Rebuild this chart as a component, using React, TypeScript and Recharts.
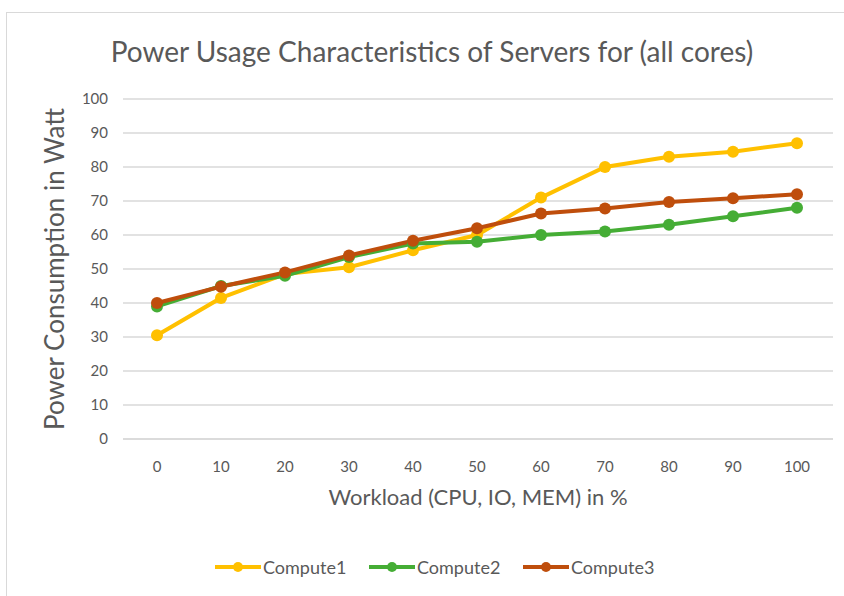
import React from 'react';
import { LineChart, Line, XAxis, YAxis, CartesianGrid, Legend, Label } from 'recharts';

const workload = ['0', '10', '20', '30', '40', '50', '60', '70', '80', '90', '100'];
const compute1 = [30.5, 41.5, 48.5, 50.5, 55.5, 60, 71, 80, 83, 84.5, 87];
const compute2 = [39, 45, 48, 53.5, 57.5, 58, 60, 61, 63, 65.5, 68];
const compute3 = [40, 44.8, 49, 54, 58.3, 62, 66.3, 67.8, 69.7, 70.8, 72];
const yTicks = [0, 10, 20, 30, 40, 50, 60, 70, 80, 90, 100];

const series = [
  { key: 'Compute1', values: compute1, color: '#FFC000' },
  { key: 'Compute2', values: compute2, color: '#45AD35' },
  { key: 'Compute3', values: compute3, color: '#BF4E0C' },
];

const data = workload.map((w, i) => {
  const row: any = { name: w };
  series.forEach((s) => { row[s.key] = s.values[i]; });
  return row;
});

const FONT = 'Lato, "Open Sans", sans-serif';
const GRAY = '#595959';

const renderLegend = () => (
  <div style={{ display: 'flex', justifyContent: 'flex-start', paddingLeft: 162, fontFamily: FONT, fontSize: 18, color: GRAY }}>
    {series.map((s) => (
      <div key={s.key} style={{ display: 'flex', alignItems: 'center', width: 154 }}>
        <svg width={46} height={14} style={{ marginRight: 2 }}>
          <line x1={0} y1={7} x2={46} y2={7} stroke={s.color} strokeWidth={4} />
          <circle cx={23} cy={7} r={5} fill={s.color} />
        </svg>
        <span>{s.key}</span>
      </div>
    ))}
  </div>
);

export default function App() {
  return (
    <div style={{ position: 'absolute', left: 0, top: 0, width: 844, height: 596, background: '#fff', overflow: 'hidden' }}>
      <div style={{ position: 'absolute', left: 6, top: 12, width: 860, height: 620, border: '1px solid #D9D9D9' }} />
      <div style={{ position: 'absolute', left: 0, top: 34, width: 864, textAlign: 'center', fontFamily: FONT, fontSize: 28, color: GRAY }}>
        Power Usage Characteristics of Servers for (all cores)
      </div>
      <div style={{ position: 'absolute', left: 0, top: 0 }}>
        <LineChart width={844} height={596} data={data} margin={{ top: 99, right: 11, bottom: 16, left: 53 }}>
          <CartesianGrid vertical={false} stroke="#D9D9D9" strokeWidth={1.5} />
          <XAxis
            dataKey="name"
            height={117}
            padding={{ left: 34, right: 36 }}
            tick={{ fill: GRAY, fontSize: 15, fontFamily: FONT }}
            tickLine={false}
            tickSize={0}
            tickMargin={22}
            axisLine={{ stroke: '#D9D9D9', strokeWidth: 1.5 }}
          >
            <Label value="Workload (CPU, IO, MEM) in %" position="insideTop" offset={50}
              style={{ fill: GRAY, fontSize: 22, fontFamily: FONT }} />
          </XAxis>
          <YAxis
            width={70}
            domain={[0, 100]}
            ticks={yTicks}
            tick={{ fill: GRAY, fontSize: 15, fontFamily: FONT }}
            tickLine={false}
            tickSize={0}
            tickMargin={15}
            axisLine={false}
          >
            <Label value="Power Consumption in Watt" angle={-90} position="insideLeft" offset={2}
              style={{ fill: GRAY, fontSize: 26, fontFamily: FONT, textAnchor: 'middle' }} />
          </YAxis>
          <Legend verticalAlign="bottom" height={24} content={renderLegend} />
          {series.map((s) => (
            <Line
              key={s.key}
              dataKey={s.key}
              stroke={s.color}
              strokeWidth={4}
              dot={{ r: 6, fill: s.color, stroke: s.color, strokeWidth: 0 }}
              isAnimationActive={false}
            />
          ))}
        </LineChart>
      </div>
    </div>
  );
}
